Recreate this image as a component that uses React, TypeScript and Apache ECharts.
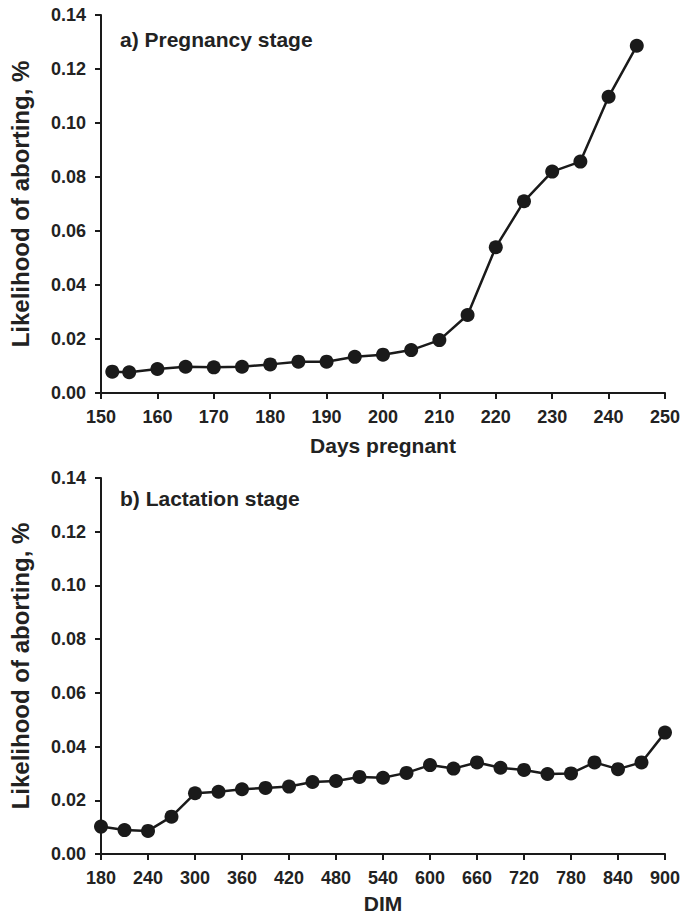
import React, { useEffect, useRef } from "react";
import * as echarts from "echarts";

const pregDays = [152, 155, 160, 165, 170, 175, 180, 185, 190, 195, 200, 205, 210, 215, 220, 225, 230, 235, 240, 245];
const pregValues = [0.0079, 0.0077, 0.0089, 0.0097, 0.0095, 0.0097, 0.0106, 0.0116, 0.0116, 0.0134, 0.0142, 0.0159, 0.0196, 0.0289, 0.054, 0.071, 0.082, 0.0857, 0.1097, 0.1286];

const dimDays = [180, 210, 240, 270, 300, 330, 360, 390, 420, 450, 480, 510, 540, 570, 600, 630, 660, 690, 720, 750, 780, 810, 840, 870, 900];
const dimValues = [0.0102, 0.0089, 0.0086, 0.0139, 0.0226, 0.0232, 0.0241, 0.0246, 0.0251, 0.0268, 0.0272, 0.0287, 0.0284, 0.0302, 0.0331, 0.0318, 0.0341, 0.0321, 0.0313, 0.0298, 0.030, 0.0341, 0.0316, 0.0341, 0.0452];

const yTitle = "Likelihood of aborting, %";
const xTitleA = "Days pregnant";
const xTitleB = "DIM";
const panelA = "a) Pregnancy stage";
const panelB = "b) Lactation stage";

const INK = "#1a1a1a";
const TXT = "#222222";
const FONT = "'Liberation Sans', Arial, sans-serif";

export default function App() {
  const ref = useRef<HTMLDivElement>(null);
  useEffect(() => {
    if (!ref.current) return;
    const chart = echarts.init(ref.current, null, { renderer: "svg" });
    const axisCommon = {
      axisLine: { show: true, lineStyle: { color: INK, width: 2 } },
      axisTick: { show: true, inside: false, length: 6, lineStyle: { color: INK, width: 2 } },
      splitLine: { show: false },
      axisLabel: { color: TXT, fontFamily: FONT, fontWeight: "bold", fontSize: 18 },
      nameTextStyle: { color: TXT, fontFamily: FONT, fontWeight: "bold", fontSize: 21 },
    };
    const yAxis = (gridIndex: number) => ({
      ...axisCommon,
      type: "value",
      gridIndex,
      min: 0,
      max: 0.14,
      interval: 0.02,
      name: yTitle,
      nameLocation: "middle",
      nameGap: 69,
      nameTextStyle: { ...axisCommon.nameTextStyle, fontSize: 24 },
      axisLabel: { ...axisCommon.axisLabel, margin: 15, formatter: (v: number) => v.toFixed(2) },
    });
    const series = (xi: number, xs: number[], ys: number[]) => ({
      type: "line",
      xAxisIndex: xi,
      yAxisIndex: xi,
      data: xs.map((x, i) => [x, ys[i]]),
      symbol: "circle",
      symbolSize: 14,
      lineStyle: { color: INK, width: 2.5 },
      itemStyle: { color: INK },
    });
    chart.setOption({
      animation: false,
      backgroundColor: "#ffffff",
      grid: [
        { left: 98, top: 15, width: 568, height: 378 },
        { left: 98, top: 478, width: 568, height: 376 },
      ],
      xAxis: [
        {
          ...axisCommon,
          type: "value",
          gridIndex: 0,
          min: 150,
          max: 250,
          interval: 10,
          name: xTitleA,
          nameLocation: "middle",
          nameGap: 42,
          axisLabel: { ...axisCommon.axisLabel, margin: 15 },
        },
        {
          ...axisCommon,
          type: "value",
          gridIndex: 1,
          min: 180,
          max: 900,
          interval: 60,
          name: xTitleB,
          nameLocation: "middle",
          nameGap: 39,
          axisLabel: { ...axisCommon.axisLabel, margin: 15 },
        },
      ],
      yAxis: [yAxis(0), yAxis(1)],
      graphic: [
        {
          type: "text",
          left: 120,
          top: 29,
          style: { text: panelA, fill: TXT, font: `bold 21px ${FONT}` },
        },
        {
          type: "text",
          left: 120,
          top: 488,
          style: { text: panelB, fill: TXT, font: `bold 21px ${FONT}` },
        },
      ],
      series: [series(0, pregDays, pregValues), series(1, dimDays, dimValues)],
    });
    return () => chart.dispose();
  }, []);
  return (
    <div
      ref={ref}
      style={{ position: "fixed", left: 0, top: 0, width: 683, height: 915, background: "#fff" }}
    />
  );
}
